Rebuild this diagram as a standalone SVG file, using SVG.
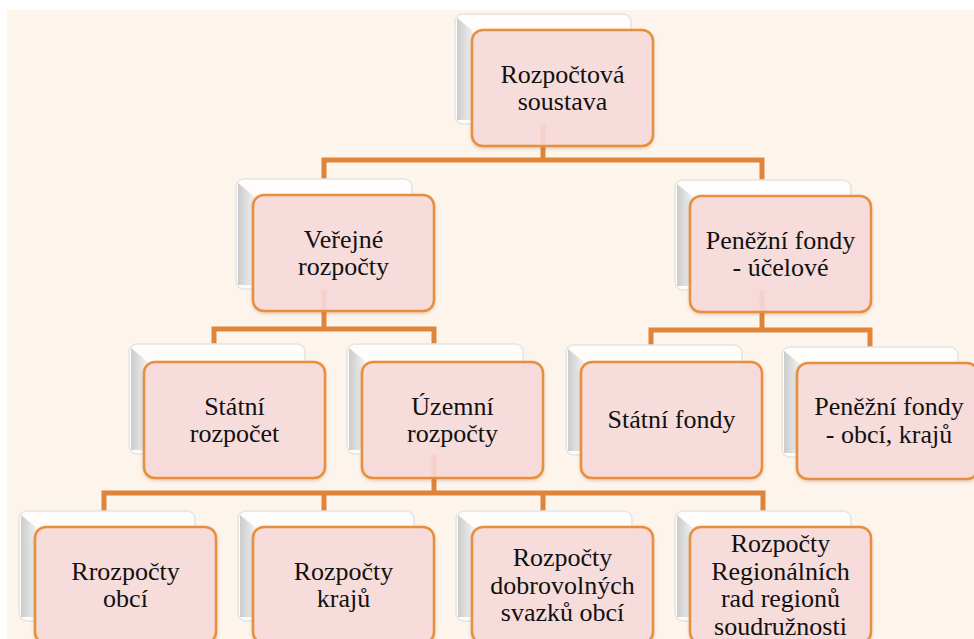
<svg xmlns="http://www.w3.org/2000/svg" xmlns:xlink="http://www.w3.org/1999/xlink" width="974" height="639" viewBox="0 0 974 639">
<defs>
<style>
.bg{fill:#fdf4eb}
.conn{fill:none;stroke:#e0843a;stroke-width:5;stroke-linejoin:miter}
.front{fill:#f9dcdc;fill-opacity:0.88;stroke:#e88f3e;stroke-width:2.5}
.t{font-family:'Liberation Serif','DejaVu Serif',serif;font-size:26px;fill:#111;text-anchor:middle}
</style>
<linearGradient id="bevel" x1="0" y1="0" x2="1" y2="0">
<stop offset="0" stop-color="#cbcbcb"/>
<stop offset="1" stop-color="#f2f2f2"/>
</linearGradient>
<filter id="sh" x="-10%" y="-10%" width="120%" height="125%">
<feDropShadow dx="0" dy="1.5" stdDeviation="1.5" flood-color="#9a6a40" flood-opacity="0.3"/>
</filter>
<g id="back">
<rect x="0" y="0" width="176" height="110" rx="8" fill="#fffdfb" stroke="#e4e4e4" stroke-width="1.5"/>
<path d="M2,4 L18,17 L18,106 L2,106 Z" fill="url(#bevel)"/>
</g>
</defs>
<rect class="bg" x="7" y="10" width="967" height="629"/>
<g id="connectors">
<path class="conn" d="M543,123 V160"/>
<path class="conn" d="M324,180 V160 H762 V181"/>
<path class="conn" d="M324,289 V329"/>
<path class="conn" d="M214,345 V329 H434 V345"/>
<path class="conn" d="M762,290 V330"/>
<path class="conn" d="M651,346 V330 H870 V348"/>
<path class="conn" d="M434,454 V493"/>
<path class="conn" d="M104,512 V493 H763 V512"/>
<path class="conn" d="M324,493 V512"/>
<path class="conn" d="M543,493 V512"/>
</g>
<g id="n-root">
<use xlink:href="#back" x="455" y="14"/>
<rect class="front" filter="url(#sh)" x="472" y="30" width="181" height="116" rx="11"/>
<text class="t" x="562.5" y="83">Rozpočtová</text>
<text class="t" x="562.5" y="110">soustava</text>
</g>
<g id="n-verejne">
<use xlink:href="#back" x="236" y="179"/>
<rect class="front" filter="url(#sh)" x="253" y="195" width="181" height="116" rx="11"/>
<text class="t" x="343.5" y="248">Veřejné</text>
<text class="t" x="343.5" y="275">rozpočty</text>
</g>
<g id="n-penezni-ucelove">
<use xlink:href="#back" x="675" y="180"/>
<rect class="front" filter="url(#sh)" x="690" y="196" width="181" height="116" rx="11"/>
<text class="t" x="780.5" y="249">Peněžní fondy</text>
<text class="t" x="780.5" y="276">- účelové</text>
</g>
<g id="n-statni-rozpocet">
<use xlink:href="#back" x="129" y="344"/>
<rect class="front" filter="url(#sh)" x="144" y="362" width="181" height="116" rx="11"/>
<text class="t" x="234.5" y="415">Státní</text>
<text class="t" x="234.5" y="442">rozpočet</text>
</g>
<g id="n-uzemni">
<use xlink:href="#back" x="347" y="344"/>
<rect class="front" filter="url(#sh)" x="362" y="362" width="181" height="116" rx="11"/>
<text class="t" x="452.5" y="415">Územní</text>
<text class="t" x="452.5" y="442">rozpočty</text>
</g>
<g id="n-statni-fondy">
<use xlink:href="#back" x="566" y="345"/>
<rect class="front" filter="url(#sh)" x="581" y="362" width="181" height="116" rx="11"/>
<text class="t" x="671.5" y="428">Státní fondy</text>
</g>
<g id="n-penezni-obci">
<use xlink:href="#back" x="782" y="347"/>
<rect class="front" filter="url(#sh)" x="797" y="363" width="181" height="116" rx="11"/>
<text class="t" x="889" y="415">Peněžní fondy</text>
<text class="t" x="889" y="443">- obcí, krajů</text>
</g>
<g id="n-obci">
<use xlink:href="#back" x="19" y="511"/>
<rect class="front" filter="url(#sh)" x="35" y="527" width="181" height="116" rx="11"/>
<text class="t" x="125.5" y="580">Rrozpočty</text>
<text class="t" x="125.5" y="607">obcí</text>
</g>
<g id="n-kraju">
<use xlink:href="#back" x="238" y="511"/>
<rect class="front" filter="url(#sh)" x="253" y="527" width="181" height="116" rx="11"/>
<text class="t" x="343.5" y="580">Rozpočty</text>
<text class="t" x="343.5" y="607">krajů</text>
</g>
<g id="n-dsvazku">
<use xlink:href="#back" x="456" y="511"/>
<rect class="front" filter="url(#sh)" x="472" y="527" width="181" height="116" rx="11"/>
<text class="t" x="562.5" y="566">Rozpočty</text>
<text class="t" x="562.5" y="593.5">dobrovolných</text>
<text class="t" x="562.5" y="621">svazků obcí</text>
</g>
<g id="n-regionalnich">
<use xlink:href="#back" x="675" y="511"/>
<rect class="front" filter="url(#sh)" x="690" y="527" width="181" height="116" rx="11"/>
<text class="t" x="780.5" y="552">Rozpočty</text>
<text class="t" x="780.5" y="579.5">Regionálních</text>
<text class="t" x="780.5" y="607">rad regionů</text>
<text class="t" x="780.5" y="634.5">soudružnosti</text>
</g>
</svg>
